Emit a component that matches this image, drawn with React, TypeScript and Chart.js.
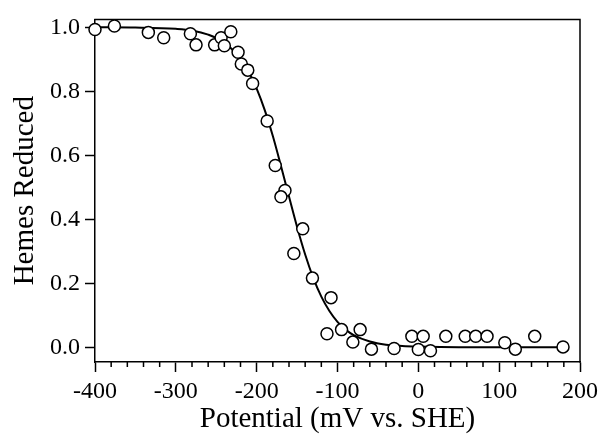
import { useEffect, useRef } from 'react';
import { Chart, registerables } from 'chart.js';

Chart.register(...registerables);

const FONT = '"Liberation Serif", "Times New Roman", serif';

// Measured points: potential (mV vs. SHE) and fraction of hemes reduced
const potentialMv = [
  -400, -376, -334, -315, -282, -275, -252, -244, -240, -232, -223, -219, -211, -205,
  -187, -177, -165, -170, -143, -154, -131, -108, -113, -95, -72, -81, -58, -30, -8,
  6, 0, 15, 34, 58, 71, 85, 107, 120, 144, 179,
];
const hemesReduced = [
  0.993, 1.004, 0.984, 0.967, 0.98, 0.945, 0.945, 0.967, 0.942, 0.986, 0.922, 0.885, 0.866, 0.824,
  0.707, 0.568, 0.49, 0.47, 0.37, 0.293, 0.216, 0.155, 0.042, 0.055, 0.055, 0.016, -0.006, -0.004, 0.034,
  0.034, -0.007, -0.011, 0.034, 0.034, 0.034, 0.034, 0.014, -0.006, 0.034, 0.001,
];

// Fitted curve
const fitPotentialMv = [
  -400, -350, -300, -280, -260, -240, -220, -210, -200, -190, -180, -170, -160, -150, -140,
  -130, -120, -110, -100, -90, -80, -60, -40, -20, 0, 50, 100, 150, 179,
];
const fitHemesReduced = [
  1.0, 0.999, 0.995, 0.99, 0.977, 0.952, 0.902, 0.862, 0.808, 0.741, 0.66, 0.567, 0.471, 0.376, 0.29,
  0.217, 0.158, 0.113, 0.079, 0.055, 0.038, 0.018, 0.008, 0.004, 0.002, 0.0, 0.0, 0.0, 0.0,
];

const yTickValues = [0, 0.2, 0.4, 0.6, 0.8, 1.0];
const xAxisTitle = 'Potential (mV vs. SHE)';
const yAxisTitle = 'Hemes Reduced';

const framePlugin = {
  id: 'frameAndMinorTicks',
  beforeDatasetsDraw(chart: any) {
    const { ctx, chartArea } = chart;
    const { left, right, top, bottom } = chartArea;
    ctx.save();
    ctx.strokeStyle = '#000';
    ctx.lineWidth = 1.5;
    ctx.beginPath();
    ctx.moveTo(left - 0.75, top);
    ctx.lineTo(right, top);
    ctx.lineTo(right, bottom + 0.75);
    ctx.stroke();
    const xs = chart.scales.x;
    ctx.beginPath();
    xs.ticks.forEach((t: any) => {
      if (Math.round(t.value) % 100 !== 0) {
        const px = xs.getPixelForValue(t.value);
        ctx.moveTo(px, bottom);
        ctx.lineTo(px, bottom + 5);
      }
    });
    ctx.stroke();
    ctx.restore();
  },
};

export default function App() {
  const ref = useRef<HTMLCanvasElement>(null);
  useEffect(() => {
    document.body.style.margin = '0';
    const points = potentialMv.map((x, i) => ({ x, y: hemesReduced[i] }));
    const fit = fitPotentialMv.map((x, i) => ({ x, y: fitHemesReduced[i] }));
    const chart = new Chart(ref.current!, {
      type: 'scatter',
      data: {
        datasets: [
          {
            label: 'data',
            data: points,
            pointRadius: 6,
            pointBorderWidth: 1.5,
            pointBackgroundColor: '#fff',
            pointBorderColor: '#000',
            showLine: false,
            clip: false as any,
            order: 0,
          },
          {
            label: 'fit',
            data: fit,
            showLine: true,
            pointRadius: 0,
            borderColor: '#000',
            borderWidth: 2,
            cubicInterpolationMode: 'monotone',
            order: 1,
          },
        ],
      },
      options: {
        responsive: false,
        animation: false,
        layout: { padding: { top: 14, right: 22, left: 0, bottom: 0 } },
        plugins: { legend: { display: false }, tooltip: { enabled: false } },
        scales: {
          x: {
            type: 'linear',
            position: 'bottom',
            min: -400,
            max: 200,
            afterFit: (s: any) => {
              s.height = 76;
            },
            ticks: {
              stepSize: 20,
              autoSkip: false,
              maxRotation: 0,
              color: '#000',
              padding: 5,
              font: { family: FONT, size: 24 },
              callback: (v: any) => (Math.round(Number(v)) % 100 === 0 ? String(Math.round(Number(v))) : ''),
            },
            grid: {
              drawOnChartArea: false,
              drawTicks: true,
              tickLength: 10,
              tickWidth: 1.5,
              tickColor: (c: any) =>
                c.tick && Math.round(c.tick.value) % 100 === 0 ? '#000' : 'rgba(0,0,0,0)',
            },
            border: { color: '#000', width: 1.5 },
            title: {
              display: true,
              text: xAxisTitle,
              color: '#000',
              font: { family: FONT, size: 29 },
              padding: { top: 0, bottom: 1 },
            },
          },
          y: {
            type: 'linear',
            min: -0.0462,
            max: 1.0246,
            afterFit: (s: any) => {
              s.width = 95;
            },
            afterBuildTicks: (s: any) => {
              s.ticks = yTickValues.map((v) => ({ value: v }));
            },
            ticks: {
              color: '#000',
              padding: 5,
              font: { family: FONT, size: 24 },
              callback: (v: any) => Number(v).toFixed(1),
            },
            grid: {
              drawOnChartArea: false,
              drawTicks: true,
              tickLength: 10,
              tickWidth: 1.5,
              tickColor: '#000',
            },
            border: { color: '#000', width: 1.5 },
            title: {
              display: true,
              text: yAxisTitle,
              color: '#000',
              font: { family: FONT, size: 29 },
              padding: { top: 8, bottom: 0 },
            },
          },
        },
      },
      plugins: [framePlugin],
    });
    return () => chart.destroy();
  }, []);
  return (
    <div style={{ width: 603, height: 438 }}>
      <canvas ref={ref} width={603} height={438} style={{ width: 603, height: 438, display: 'block' }} />
    </div>
  );
}
